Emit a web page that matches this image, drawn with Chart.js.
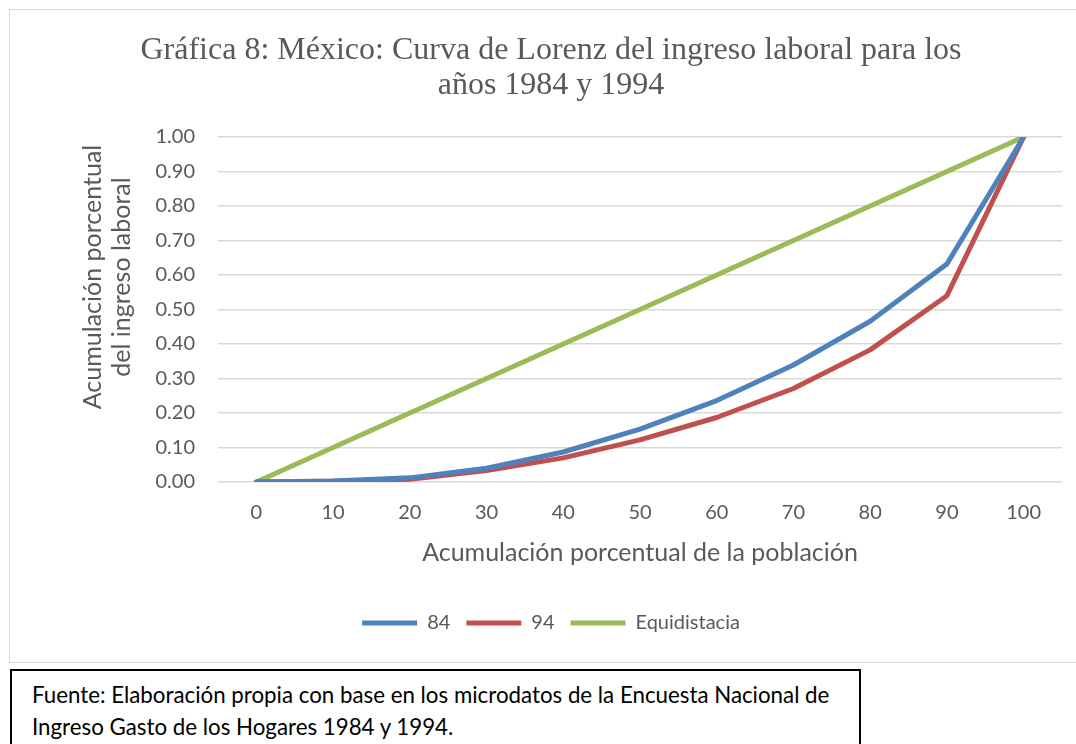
<!DOCTYPE html>
<html>
<head>
<meta charset="utf-8">
<script src="https://cdn.jsdelivr.net/npm/chart.js@4.4.1/dist/chart.umd.min.js"></script>
<style>
  html, body { margin: 0; padding: 0; background: #ffffff; overflow: hidden; width: 1076px; height: 744px; }
  #frame { position: absolute; left: 9px; top: 9px; width: 1100px; height: 652px; border: 1px solid #d9d9d9; }
  #c { position: absolute; left: 0; top: 0; }
  #fuente { position: absolute; left: 10px; top: 669px; width: 827px; height: 100px; border: 2px solid #000;
            padding: 8px 0 0 20px; font-family: Lato, "Liberation Sans", sans-serif; font-size: 22.3px; line-height: 32px; color: #000; }
</style>
</head>
<body>
<div id="frame"><canvas id="c" width="1080" height="650"></canvas></div>
<div id="fuente">Fuente: Elaboración propia con base en los microdatos de la Encuesta Nacional de<br>Ingreso Gasto de los Hogares 1984 y 1994.</div>
<script>
const categories = ['0', '10', '20', '30', '40', '50', '60', '70', '80', '90', '100'];
const serie84 = [0, 0.003, 0.012, 0.040, 0.087, 0.153, 0.236, 0.339, 0.466, 0.632, 1.0];
const serie94 = [0, 0.002, 0.008, 0.033, 0.070, 0.122, 0.187, 0.271, 0.383, 0.540, 1.0];
const equidistancia = [0, 0.1, 0.2, 0.3, 0.4, 0.5, 0.6, 0.7, 0.8, 0.9, 1.0];
const seriesNames = ['84', '94', 'Equidistacia'];
const titleLines = ['Gráfica 8: México: Curva de Lorenz del ingreso laboral para los', 'años 1984 y 1994'];
const yTitleLines = ['Acumulación porcentual', 'del ingreso laboral'];
const xTitle = 'Acumulación porcentual de la población';

const GREY = '#595959';
const SANS = 'Lato, "Liberation Sans", sans-serif';

const yTitlePlugin = {
  id: 'yTitle',
  afterDraw(chart) {
    const ctx = chart.ctx;
    ctx.save();
    ctx.font = '25px ' + SANS;
    ctx.fillStyle = GREY;
    ctx.textAlign = 'center';
    ctx.textBaseline = 'middle';
    ctx.translate(83, 267);
    ctx.rotate(-Math.PI / 2);
    yTitleLines.forEach((t, i) => ctx.fillText(t, 0, i * 29));
    ctx.restore();
  }
};

function ds(label, data, color) {
  return {
    label, data,
    borderColor: color, backgroundColor: color,
    borderWidth: 5, pointRadius: 0, pointHoverRadius: 0,
    tension: 0, fill: false,
    borderCapStyle: 'round', borderJoinStyle: 'round'
  };
}

new Chart(document.getElementById('c'), {
  type: 'line',
  data: {
    labels: categories,
    datasets: [
      ds(seriesNames[0], serie84, '#4F81BD'),
      ds(seriesNames[1], serie94, '#C0504D'),
      ds(seriesNames[2], equidistancia, '#9BBB59')
    ]
  },
  options: {
    responsive: false,
    animation: false,
    devicePixelRatio: 1,
    layout: { padding: { left: 30, right: 28, top: 0, bottom: 17 } },
    plugins: {
      title: {
        display: true,
        text: titleLines,
        color: GREY,
        font: { family: '"Liberation Serif", "Times New Roman", serif', size: 32, weight: 'normal', lineHeight: 1.1 },
        padding: { top: 22.6, bottom: 34 }
      },
      legend: {
        position: 'bottom',
        labels: {
          usePointStyle: true,
          pointStyle: 'line',
          pointStyleWidth: 55,
          boxHeight: 20,
          padding: 16,
          color: GREY,
          font: { family: SANS, size: 20 }
        }
      },
      tooltip: { enabled: false }
    },
    scales: {
      x: {
        type: 'category',
        offset: true,
        grid: { display: false, drawTicks: false },
        border: { display: false },
        ticks: { color: GREY, font: { family: SANS, size: 20 }, padding: 19, maxRotation: 0, autoSkip: false },
        title: { display: true, text: xTitle, color: GREY, font: { family: SANS, size: 25 }, padding: { top: 0, bottom: 29 } },
        afterFit(s) { s.height = 115; }
      },
      y: {
        min: 0, max: 1,
        grid: { color: '#d9d9d9', lineWidth: 1.5, drawTicks: false },
        border: { display: false },
        ticks: { stepSize: 0.1, color: GREY, font: { family: SANS, size: 20 }, padding: 23,
                 callback: (v) => Number(v).toFixed(2) },
        afterFit(s) { s.width = 178; }
      }
    }
  },
  plugins: [yTitlePlugin]
});
</script>
</body>
</html>
